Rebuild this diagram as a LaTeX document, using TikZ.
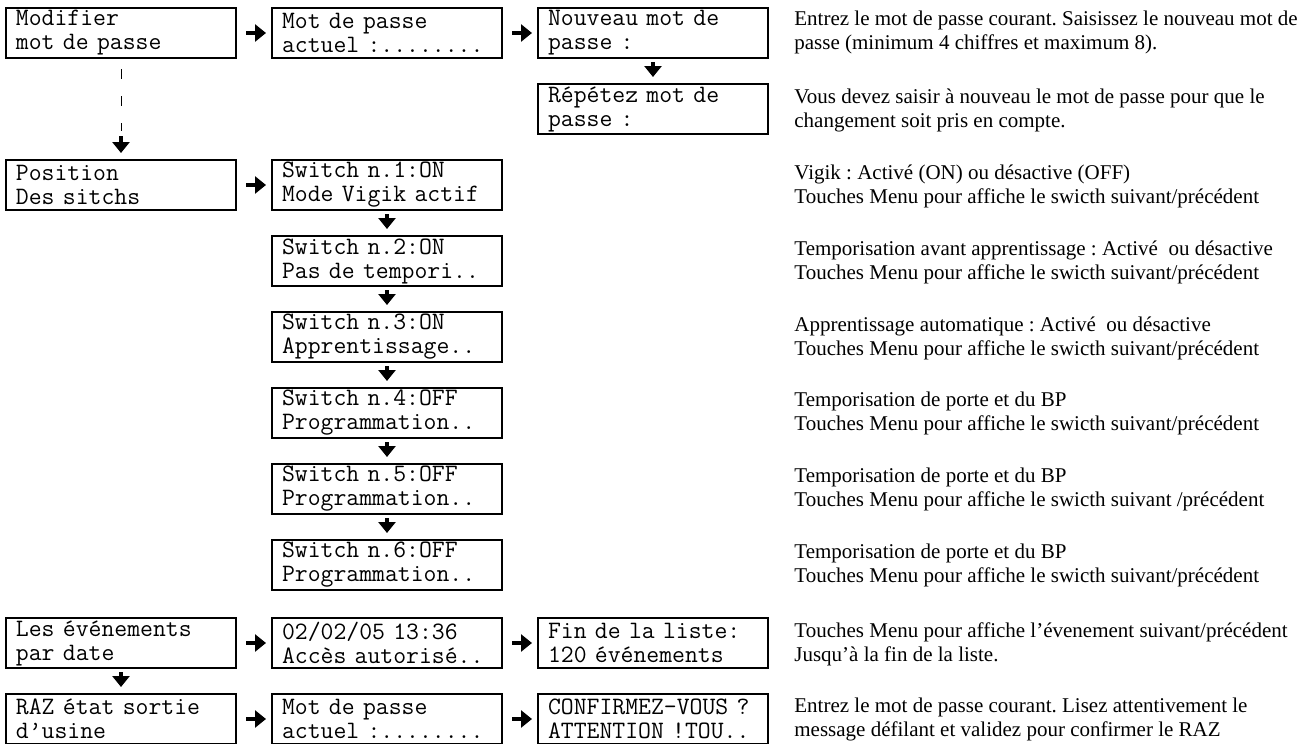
\documentclass[tikz,border=0pt]{standalone}
\usepackage{fontspec}
\setmainfont{Liberation Serif}
\usetikzlibrary{arrows.meta}
\frenchspacing

\begin{document}
\begin{tikzpicture}[x=0.5pt, y=-0.5pt,
		ecran/.style={draw, line width=1pt, anchor=north west, text width=105pt, minimum height=25pt, inner xsep=5pt, inner ysep=0pt, align=left, font=\ttfamily\fontsize{12.5}{12}\selectfont},
		expl/.style={anchor=north west, inner sep=0pt, align=left, font=\fontsize{10.5}{12}\selectfont},
		droite/.style={line width=2.4pt, -{Triangle[length=5.5pt,width=8.5pt]}, shorten <=4.5pt, shorten >=2.5pt},
		bas/.style={line width=2.4pt, -{Triangle[length=5.5pt,width=8.5pt]}, shorten <=1.5pt, shorten >=3pt}]
		\useasboundingbox (0,0) rectangle (1314,744);
		
		% Mot de passe
		\node[ecran] (modif) at (5,7) {Modifier\\mot de passe};
		\node[ecran] (actuel) at (271,7) {Mot de passe\\actuel :........};
		\node[ecran] (nouveau) at (537,7) {Nouveau mot de\\passe :};
		\node[ecran] (repet) at (537,83) {Répétez mot de\\passe :};
		\node[expl] (e1) at (794,11) {Entrez le mot de passe courant. Saisissez le nouveau mot de\\passe (minimum 4 chiffres et maximum 8).};
		\node[expl] (e2) at (794,88) {Vous devez saisir à nouveau le mot de passe pour que le\\changement soit pris en compte.};
		\draw[droite] ([yshift=-13]modif.north east) -- ([yshift=-13]actuel.north west);
		\draw[droite] ([yshift=-13]actuel.north east) -- ([yshift=-13]nouveau.north west);
		\draw[bas] (nouveau) -- (repet);
		
		% Switchs
		\node[ecran] (pos) at (5,159) {Position\\Des sitchs};
		\node[ecran] (sw1) at (271,159) {Switch n.1:ON\\Mode Vigik actif};
		\node[ecran] (sw2) at (271,235) {Switch n.2:ON\\Pas de tempori..};
		\node[ecran] (sw3) at (271,311) {Switch n.3:ON\\Apprentissage..};
		\node[ecran] (sw4) at (271,387) {Switch n.4:OFF\\Programmation..};
		\node[ecran] (sw5) at (271,463) {Switch n.5:OFF\\Programmation..};
		\node[ecran] (sw6) at (271,539) {Switch n.6:OFF\\Programmation..};
		\node[expl] (e3) at (794,164) {Vigik : Activé (ON) ou désactive (OFF)\\Touches Menu pour affiche le swicth suivant/précédent};
		\node[expl] (e4) at (794,240) {Temporisation avant apprentissage : Activé\ \ ou désactive\\Touches Menu pour affiche le swicth suivant/précédent};
		\node[expl] (e5) at (794,316) {Apprentissage automatique : Activé\ \ ou désactive\\Touches Menu pour affiche le swicth suivant/précédent};
		\node[expl] (e6) at (794,392) {Temporisation de porte et du BP\\Touches Menu pour affiche le swicth suivant/précédent};
		\node[expl] (e7) at (794,468) {Temporisation de porte et du BP\\Touches Menu pour affiche le swicth suivant /précédent};
		\node[expl] (e8) at (794,544) {Temporisation de porte et du BP\\Touches Menu pour affiche le swicth suivant/précédent};
		\draw[line width=0.5pt, dash pattern=on 5pt off 8.5pt, shorten <=5pt, shorten >=14pt] (modif) -- (pos);
		\draw[bas, shorten <=38.5pt] (modif) -- (pos);
		\draw[droite] ([yshift=-13]pos.north east) -- ([yshift=-13]sw1.north west);
		\foreach \a/\b in {1/2, 2/3, 3/4, 4/5, 5/6}
			\draw[bas] (sw\a) -- (sw\b);
		
		% Evenements
		\node[ecran] (even) at (5,617) {Les événements\\par date};
		\node[ecran] (date) at (271,617) {02/02/05 13:36\\Accès autorisé..};
		\node[ecran] (fin) at (537,617) {Fin de la liste:\\120 événements};
		\node[expl] (e9) at (794,622) {Touches Menu pour affiche l’évenement suivant/précédent\\Jusqu’à la fin de la liste.};
		\draw[droite] ([yshift=-13]even.north east) -- ([yshift=-13]date.north west);
		\draw[droite] ([yshift=-13]date.north east) -- ([yshift=-13]fin.north west);
		
		% RAZ
		\node[ecran] (raz) at (5,693) {RAZ état sortie\\d’usine};
		\node[ecran] (actuel2) at (271,693) {Mot de passe\\actuel :........};
		\node[ecran] (conf) at (537,693) {CONFIRMEZ-VOUS ?\\ATTENTION !TOU..};
		\node[expl] (e10) at (794,698) {Entrez le mot de passe courant. Lisez attentivement le\\message défilant et validez pour confirmer le RAZ};
		\draw[bas] (even) -- (raz);
		\draw[droite] ([yshift=-13]raz.north east) -- ([yshift=-13]actuel2.north west);
		\draw[droite] ([yshift=-13]actuel2.north east) -- ([yshift=-13]conf.north west);
	\end{tikzpicture}
\end{document}
